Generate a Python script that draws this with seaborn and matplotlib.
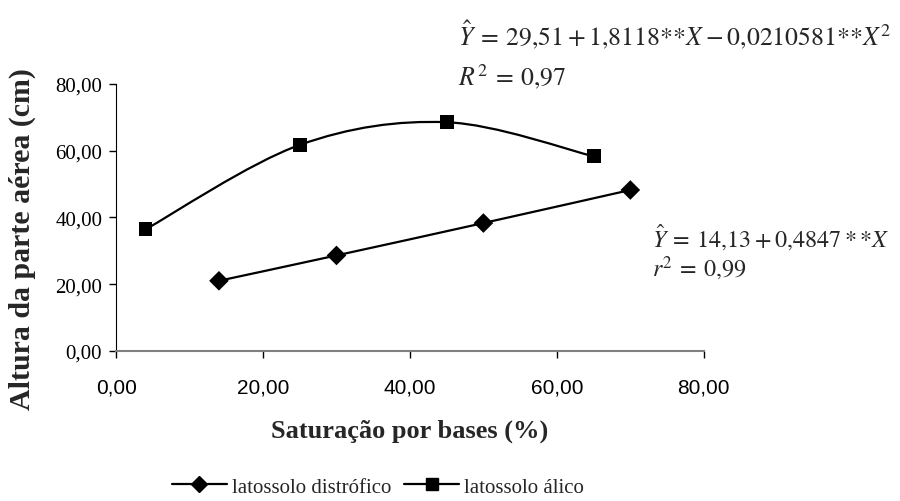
import numpy as np
import pandas as pd
import matplotlib
matplotlib.use('Agg')
import matplotlib.pyplot as plt
import seaborn as sns
from matplotlib.path import Path
from matplotlib.patches import PathPatch
from matplotlib.lines import Line2D

# data
x_distrofico = [14, 30, 50, 70]
y_distrofico = [21.0, 28.6, 38.3, 48.2]
x_alico = [4, 25, 45, 65]
y_alico = [36.4, 61.7, 68.5, 58.3]
x_ticks = [0, 20, 40, 60, 80]
y_ticks = [0, 20, 40, 60, 80]

sns.set_style('white')
plt.rcParams['font.family'] = ['Liberation Serif', 'DejaVu Serif']
plt.rcParams['mathtext.fontset'] = 'stix'

df = pd.concat([
    pd.DataFrame({'sat': x_distrofico, 'alt': y_distrofico, 'solo': 'latossolo distrófico'}),
    pd.DataFrame({'sat': x_alico, 'alt': y_alico, 'solo': 'latossolo álico'}),
])


# smoothed line like a spreadsheet chart (cubic bezier through the points)
def smooth_path(xs, ys):
    pts = np.column_stack([xs, ys]).astype(float)
    n = len(pts)
    verts = [pts[0]]
    codes = [Path.MOVETO]
    for i in range(n - 1):
        p0 = pts[i - 1] if i > 0 else pts[i]
        p1 = pts[i]
        p2 = pts[i + 1]
        p3 = pts[i + 2] if i + 2 < n else pts[i + 1]
        c1 = p1 + (p2 - p0) / 6.0
        c2 = p2 - (p3 - p1) / 6.0
        verts += [c1, c2, p2]
        codes += [Path.CURVE4] * 3
    return Path(verts, codes)


fig = plt.figure(figsize=(9, 5.02), dpi=100)
ax = fig.add_axes([0.129, 0.299, 0.653, 0.532])

for xs, ys in [(x_distrofico, y_distrofico), (x_alico, y_alico)]:
    ax.add_patch(PathPatch(smooth_path(xs, ys), facecolor='none',
                           edgecolor='black', lw=1.6, zorder=2))

sns.scatterplot(data=df, x='sat', y='alt', hue='solo', style='solo',
                markers={'latossolo distrófico': 'D', 'latossolo álico': 's'},
                palette={'latossolo distrófico': 'black', 'latossolo álico': 'black'},
                s=100, edgecolor='black', linewidth=0,
                legend=False, ax=ax, zorder=3)

ax.set_xlim(0, 80)
ax.set_ylim(0, 80)
ax.set_xticks(x_ticks)
ax.set_yticks(y_ticks)
ax.set_xticklabels([f'{v:.2f}'.replace('.', ',') for v in x_ticks])
ax.set_yticklabels([f'{v:.2f}'.replace('.', ',') for v in y_ticks])
for lab in ax.get_xticklabels():
    lab.set_fontfamily(['Liberation Sans', 'DejaVu Sans'])
    lab.set_fontsize(15)
for lab in ax.get_yticklabels():
    lab.set_fontsize(15)
ax.tick_params(axis='both', direction='out', length=5, width=1, colors='black',
               bottom=True, left=True, pad=5)
ax.tick_params(axis='x', pad=14)
for side in ['top', 'right']:
    ax.spines[side].set_visible(False)
ax.spines['left'].set_color('black')
ax.spines['bottom'].set_color('#808080')
ax.spines['bottom'].set_linewidth(1.5)

ax.set_xlabel('Saturação por bases (%)', fontsize=19, fontweight='bold', labelpad=16)
ax.set_ylabel('Altura da parte aérea (cm)', fontsize=21.5, fontweight='bold')
ax.yaxis.set_label_coords(-0.136, 0.423)

fig.text(0.509, 0.910, r'$\hat{Y}\:=\:29{,}51+1{,}8118{*}{*}X\:-\:0{,}0210581{*}{*}X^2$',
         fontsize=18.5, va='baseline')
fig.text(0.509, 0.831, r'$R^2\:=\:0{,}97$', fontsize=18.5, va='baseline')
fig.text(0.724, 0.508, r'$\hat{Y}\:=\:14{,}13\:+\:0{,}4847\:{*}\,{*}X$', fontsize=17.3, va='baseline')
fig.text(0.724, 0.448, r'$r^2\:=\:0{,}99$', fontsize=17.3, va='baseline')

handles = [
    Line2D([], [], color='black', lw=1.6, marker='D', markersize=8),
    Line2D([], [], color='black', lw=1.6, marker='s', markersize=9),
]
fig.legend(handles, ['latossolo distrófico', 'latossolo álico'],
           loc='center', bbox_to_anchor=(0.42, 0.028), ncol=2, frameon=False,
           fontsize=15, handlelength=2.65, handletextpad=0.25, columnspacing=0.6)

fig.savefig('out.png', dpi=100)
